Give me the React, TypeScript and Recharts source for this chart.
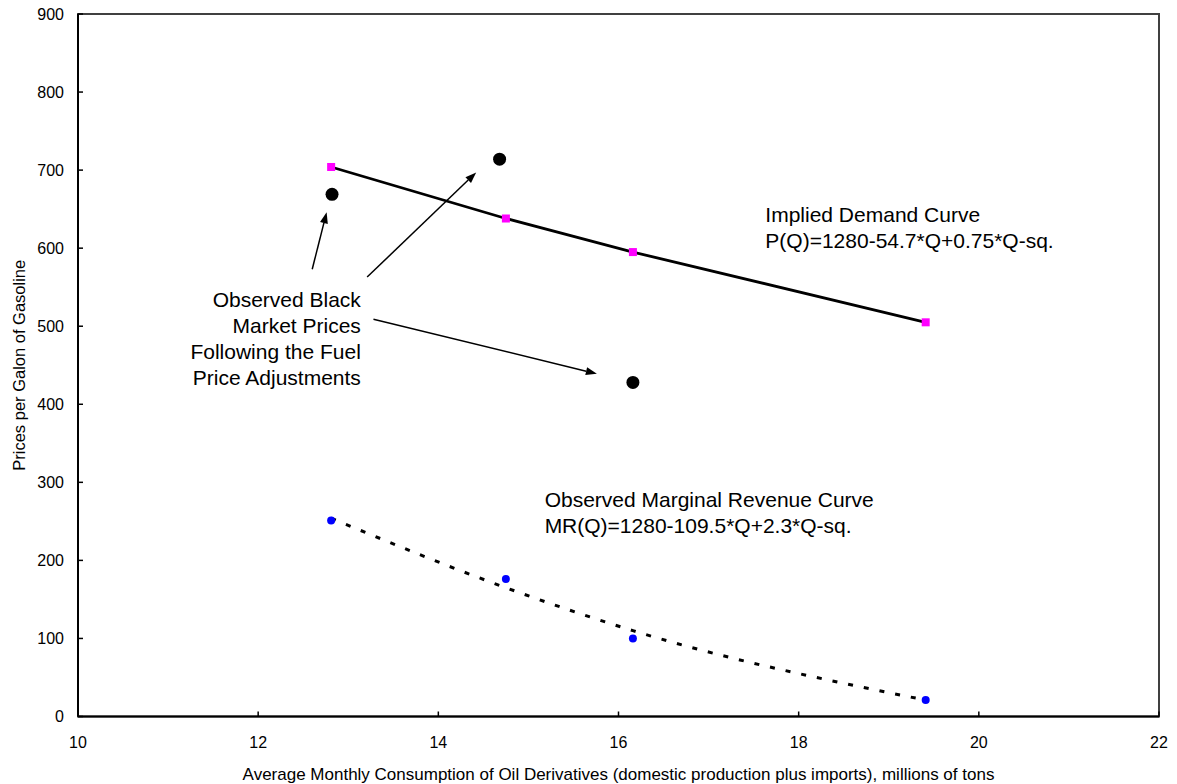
import { ComposedChart, Line, ReferenceArea, ReferenceDot, ReferenceLine, Scatter, XAxis, YAxis } from 'recharts'

const FONT = "'Liberation Sans', Arial, sans-serif"

// consumption levels (millions of tons) at the four price adjustments
const quantity = [12.81, 14.75, 16.16, 19.41]
const demandPrice = [704, 638, 595, 505]
const mrFitted = [254, 165, 110, 21]
const mrObserved = [251, 176, 100, 21]

const blackMarketQ = [12.82, 14.68, 16.16]
const blackMarketPrice = [669, 714, 428]

const xTicks = [10, 12, 14, 16, 18, 20, 22]
const yTicks = [0, 100, 200, 300, 400, 500, 600, 700, 800, 900]

type Pt = { x: number; y: number }

// annotation arrows: tail -> head, in chart units
const arrows: [Pt, Pt][] = [
  [{ x: 12.6, y: 573 }, { x: 12.76, y: 646 }],
  [{ x: 13.21, y: 563 }, { x: 14.42, y: 697 }],
  [{ x: 13.28, y: 509 }, { x: 15.76, y: 439 }],
]

type Note = { x: number; y: number; anchor: 'start' | 'end'; lines: string[] }

const notes: Note[] = [
  { x: 17.63, y: 633, anchor: 'start', lines: ['Implied Demand Curve', 'P(Q)=1280-54.7*Q+0.75*Q-sq.'] },
  { x: 15.18, y: 268, anchor: 'start', lines: ['Observed Marginal Revenue Curve', 'MR(Q)=1280-109.5*Q+2.3*Q-sq.'] },
  {
    x: 13.14,
    y: 524,
    anchor: 'end',
    lines: ['Observed Black', 'Market Prices', 'Following the Fuel', 'Price Adjustments'],
  },
]

const demandData = quantity.map((q, i) => ({ x: q, y: demandPrice[i] }))
const mrFitData = quantity.map((q, i) => ({ x: q, y: mrFitted[i] }))
const mrObsData = quantity.map((q, i) => ({ x: q, y: mrObserved[i] }))
const blackData = blackMarketQ.map((q, i) => ({ x: q, y: blackMarketPrice[i] }))

function ArrowShape(props: any) {
  const { x1, y1, x2, y2 } = props
  const a = Math.atan2(y2 - y1, x2 - x1)
  const len = 11
  const half = 4
  const bx = x2 - len * Math.cos(a)
  const by = y2 - len * Math.sin(a)
  const p1 = `${bx + half * Math.sin(a)},${by - half * Math.cos(a)}`
  const p2 = `${bx - half * Math.sin(a)},${by + half * Math.cos(a)}`
  return (
    <g>
      <line x1={x1} y1={y1} x2={bx} y2={by} stroke="#000" strokeWidth={1.5} />
      <polygon points={`${x2},${y2} ${p1} ${p2}`} fill="#000" />
    </g>
  )
}

const noteShape = (note: Note) => (props: any) => (
  <text x={props.cx} y={props.cy} textAnchor={note.anchor} fontSize={21} fontFamily={FONT} fill="#000">
    {note.lines.map((l, i) => (
      <tspan key={i} x={props.cx} dy={i === 0 ? 0 : 26}>
        {l}
      </tspan>
    ))}
  </text>
)

const square = (props: any) => <rect x={props.cx - 4} y={props.cy - 4} width={8} height={8} fill="#ff00ff" />
const bigDot = (props: any) => <circle cx={props.cx} cy={props.cy} r={6.5} fill="#000" />
const blueDot = (props: any) => <circle cx={props.cx} cy={props.cy} r={4} fill="#0000ff" />

export default function App() {
  return (
    <div style={{ position: 'absolute', left: 0, top: 0, background: '#fff' }}>
      <ComposedChart width={1177} height={784} margin={{ top: 14, right: 18, bottom: 0, left: 0 }}>
        <ReferenceArea x1={10} x2={22} y1={0} y2={900} fill="none" stroke="#404040" strokeWidth={2} />
        <XAxis
          type="number"
          dataKey="x"
          domain={[10, 22]}
          ticks={xTicks}
          height={67.5}
          tickSize={-5}
          tickMargin={25}
          axisLine={{ stroke: '#000', strokeWidth: 2 }}
          tickLine={{ stroke: '#000', strokeWidth: 1.5 }}
          tick={{ fontSize: 16, fontFamily: FONT, fill: '#000' }}
          label={{
            value:
              'Average Monthly Consumption of Oil Derivatives (domestic production plus imports), millions of tons',
            position: 'insideBottom',
            offset: 4,
            style: { fontSize: 17, fontFamily: FONT, fill: '#000' },
          }}
        />
        <YAxis
          type="number"
          domain={[0, 900]}
          ticks={yTicks}
          width={78}
          tickSize={-5}
          tickMargin={19}
          axisLine={{ stroke: '#000', strokeWidth: 2 }}
          tickLine={{ stroke: '#000', strokeWidth: 1.5 }}
          tick={{ fontSize: 16, fontFamily: FONT, fill: '#000' }}
          label={{
            value: 'Prices per Galon of Gasoline',
            angle: -90,
            position: 'insideLeft',
            offset: 19,
            style: { textAnchor: 'middle', fontSize: 16.5, fontFamily: FONT, fill: '#000' },
          }}
        />
        <Line
          data={demandData}
          dataKey="y"
          type="linear"
          stroke="#000"
          strokeWidth={2.8}
          dot={false}
          isAnimationActive={false}
        />
        <Line
          data={mrFitData}
          dataKey="y"
          type="monotone"
          stroke="#000"
          strokeWidth={3}
          strokeDasharray="5 11"
          dot={false}
          isAnimationActive={false}
        />
        <Scatter data={demandData} dataKey="y" shape={square} isAnimationActive={false} />
        <Scatter data={mrObsData} dataKey="y" shape={blueDot} isAnimationActive={false} />
        <Scatter data={blackData} dataKey="y" shape={bigDot} isAnimationActive={false} />
        {arrows.map((seg, i) => (
          <ReferenceLine key={`a${i}`} segment={seg} shape={ArrowShape} />
        ))}
        {notes.map((n, i) => (
          <ReferenceDot key={`n${i}`} x={n.x} y={n.y} r={0} shape={noteShape(n)} />
        ))}
      </ComposedChart>
    </div>
  )
}
